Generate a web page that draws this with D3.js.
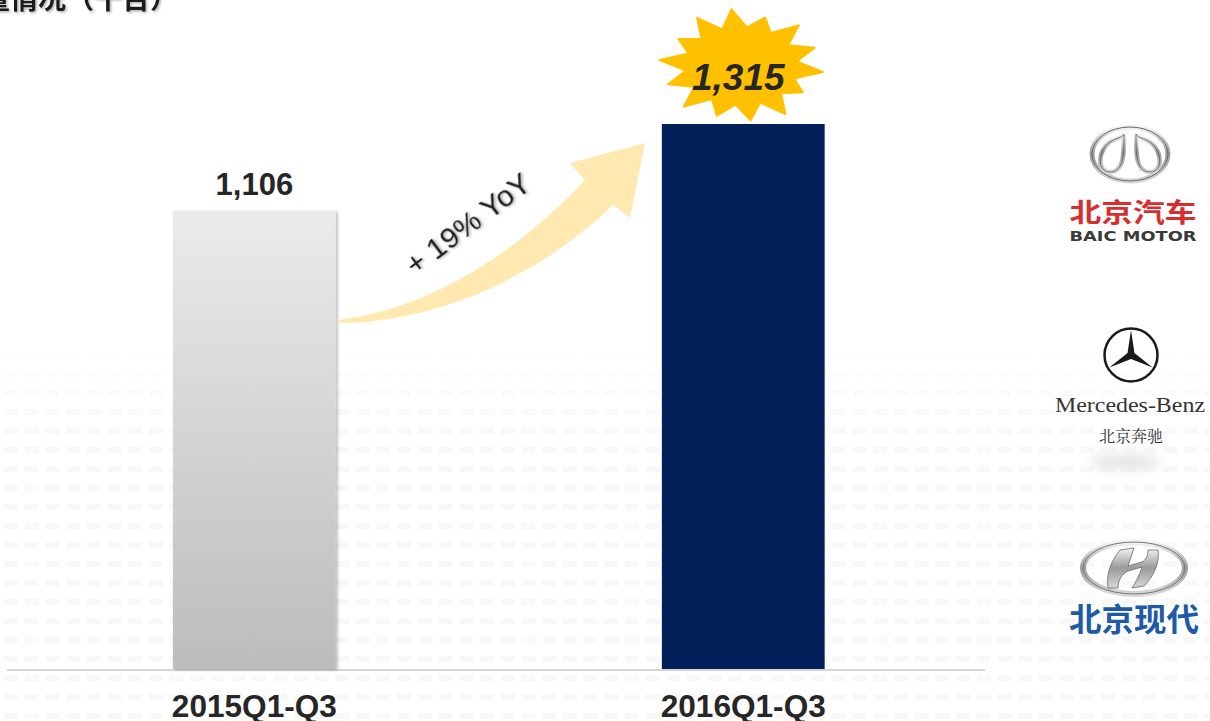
<!DOCTYPE html>
<html>
<head>
<meta charset="utf-8">
<script src="https://cdn.jsdelivr.net/npm/d3@7"></script>
<style>
  html, body { margin: 0; padding: 0; background: #fff; }
  svg { display: block; }
</style>
</head>
<body>
<svg id="chart" width="1210" height="721"></svg>
<script>
// data
const categories = ['2015Q1-Q3', '2016Q1-Q3'];
const sales = [1106, 1315];
const salesLabels = ['1,106', '1,315'];
const growthLabel = '+ 19% YoY';
const titleText = '销量情况（千台）';

const svg = d3.select('#chart'),
  width = +svg.attr('width'),
  height = +svg.attr('height');

const defs = svg.append('defs');

// faint tile pattern in lower half of background
const pat = defs.append('pattern')
  .attr('id', 'tiles')
  .attr('patternUnits', 'userSpaceOnUse')
  .attr('width', 20.7).attr('height', 19)
  .attr('x', 4).attr('y', 352);
pat.append('rect').attr('x', 0).attr('y', 0).attr('width', 14).attr('height', 6)
  .attr('fill', '#f8f8f8');

const fade = defs.append('linearGradient')
  .attr('id', 'fade').attr('x1', 0).attr('x2', 0)
  .attr('gradientUnits', 'userSpaceOnUse')
  .attr('y1', 330).attr('y2', 450);
fade.append('stop').attr('offset', 0).attr('stop-color', '#fff').attr('stop-opacity', 0);
fade.append('stop').attr('offset', 1).attr('stop-color', '#fff').attr('stop-opacity', 1);
defs.append('mask').attr('id', 'fadeMask')
  .append('rect').attr('width', width).attr('height', height).attr('fill', 'url(#fade)');

svg.append('rect')
  .attr('x', 0).attr('y', 330).attr('width', width).attr('height', height - 330)
  .attr('fill', 'url(#tiles)')
  .attr('mask', 'url(#fadeMask)');

// grey gradient for first bar
const greyGrad = defs.append('linearGradient')
  .attr('id', 'greyGrad').attr('x1', 0).attr('x2', 0).attr('y1', 0).attr('y2', 1);
greyGrad.append('stop').attr('offset', 0).attr('stop-color', '#ebebeb');
greyGrad.append('stop').attr('offset', 1).attr('stop-color', '#bcbcbc');

const shadow = defs.append('filter').attr('id', 'shadow')
  .attr('x', '-20%').attr('y', '-20%').attr('width', '140%').attr('height', '140%');
shadow.append('feDropShadow').attr('dx', 2).attr('dy', 1).attr('stdDeviation', 1.5)
  .attr('flood-color', '#000').attr('flood-opacity', 0.25);

const textShadow = defs.append('filter').attr('id', 'textShadow')
  .attr('x', '-20%').attr('y', '-40%').attr('width', '140%').attr('height', '180%');
textShadow.append('feDropShadow').attr('dx', 1.5).attr('dy', 1.5).attr('stdDeviation', 1)
  .attr('flood-color', '#000').attr('flood-opacity', 0.3);

// scales
const x = d3.scaleBand()
  .domain(categories)
  .range([11.6, 986])
  .paddingInner(0.667)
  .paddingOuter(0.33);

const y = d3.scaleLinear()
  .domain([0, 1315])
  .range([669, 124]);

const fills = ['url(#greyGrad)', '#03205a'];

// baseline
svg.append('line')
  .attr('x1', 7).attr('x2', 985)
  .attr('y1', y(0) + 1).attr('y2', y(0) + 1)
  .attr('stroke', '#d6d6d6').attr('stroke-width', 2);

// bars
svg.selectAll('.bar')
  .data(sales)
  .enter()
  .append('rect')
  .attr('class', 'bar')
  .attr('x', (d, i) => x(categories[i]))
  .attr('y', d => y(d))
  .attr('width', x.bandwidth())
  .attr('height', d => y(0) - y(d))
  .attr('fill', (d, i) => fills[i])
  .attr('filter', (d, i) => i === 0 ? 'url(#shadow)' : null);

// category labels
svg.selectAll('.cat')
  .data(categories)
  .enter()
  .append('text')
  .attr('class', 'cat')
  .attr('x', d => x(d) + x.bandwidth() / 2)
  .attr('y', 717)
  .attr('text-anchor', 'middle')
  .attr('font-family', '"Liberation Sans", Arial, sans-serif')
  .attr('font-weight', 'bold')
  .attr('font-size', 32)
  .attr('textLength', 165)
  .attr('lengthAdjust', 'spacingAndGlyphs')
  .attr('fill', '#262626')
  .text(d => d);

// growth arrow
const arrowPath = d3.path();
arrowPath.moveTo(337, 320);
arrowPath.bezierCurveTo(430, 310, 520, 250, 585, 180);
arrowPath.lineTo(570, 163);
arrowPath.lineTo(645, 143);
arrowPath.lineTo(630, 218);
arrowPath.lineTo(613, 205);
arrowPath.bezierCurveTo(540, 275, 440, 322, 340, 323);
arrowPath.closePath();
svg.append('path')
  .attr('d', arrowPath.toString())
  .attr('fill', '#ffe9b0');

svg.append('text')
  .attr('transform', 'translate(474,232) rotate(-37)')
  .attr('text-anchor', 'middle')
  .attr('font-family', '"Liberation Sans", Arial, sans-serif')
  .attr('font-size', 30)
  .attr('fill', '#1e1e1e')
  .attr('filter', 'url(#textShadow)')
  .text(growthLabel);

// starburst behind 2016 value
const cx = x(categories[1]) + x.bandwidth() / 2 - 2, cy = 66;
const spikes = 14;
const outerR = [1.0, 0.9, 1.0, 0.95, 1.0, 0.88, 1.0, 0.96, 0.92, 1.0, 0.95, 1.0, 0.9, 1.0];
const starPts = [];
for (let k = 0; k < spikes * 2; k++) {
  const a = -Math.PI / 2 + k * Math.PI / spikes - 0.12;
  const r = k % 2 === 0 ? outerR[k / 2] : 0.68;
  starPts.push([cx + Math.cos(a) * 82 * r, cy + Math.sin(a) * 57 * r]);
}
svg.append('path')
  .attr('d', d3.line().curve(d3.curveLinearClosed)(starPts))
  .attr('fill', '#ffc000')
  .attr('stroke', '#ffc000')
  .attr('stroke-width', 2)
  .attr('stroke-linejoin', 'round');

// value labels
svg.append('text')
  .attr('x', x(categories[0]) + x.bandwidth() / 2)
  .attr('y', 195)
  .attr('text-anchor', 'middle')
  .attr('font-family', '"Liberation Sans", Arial, sans-serif')
  .attr('font-weight', 'bold')
  .attr('font-size', 31)
  .attr('fill', '#262626')
  .text(salesLabels[0]);

svg.append('text')
  .attr('x', cx - 3)
  .attr('y', 90)
  .attr('text-anchor', 'middle')
  .attr('font-family', '"Liberation Sans", Arial, sans-serif')
  .attr('font-weight', 'bold')
  .attr('font-style', 'italic')
  .attr('font-size', 37)
  .attr('fill', '#262626')
  .text(salesLabels[1]);

// cut-off title at top left
svg.append('text')
  .attr('x', 178)
  .attr('y', 9)
  .attr('text-anchor', 'end')
  .attr('font-family', '"Noto Sans CJK SC", sans-serif')
  .attr('font-weight', 'bold')
  .attr('font-size', 28)
  .attr('fill', '#1a1a1a')
  .attr('filter', 'url(#textShadow)')
  .text(titleText);

// ---- brand logos on the right ----
const logos = svg.append('g');

const silver = defs.append('linearGradient')
  .attr('id', 'silver').attr('x1', 0).attr('x2', 0).attr('y1', 0).attr('y2', 1);
silver.append('stop').attr('offset', 0).attr('stop-color', '#f4f4f4');
silver.append('stop').attr('offset', 0.5).attr('stop-color', '#9a9a9a');
silver.append('stop').attr('offset', 1).attr('stop-color', '#d8d8d8');

// BAIC
const baic = logos.append('g').attr('transform', 'translate(1130,154)');
baic.append('ellipse').attr('rx', 38).attr('ry', 27)
  .attr('fill', 'none').attr('stroke', 'url(#silver)').attr('stroke-width', 5);
baic.append('ellipse').attr('rx', 38).attr('ry', 27)
  .attr('fill', 'none').attr('stroke', '#666').attr('stroke-width', 1);
[-1, 1].forEach(s => {
  const d = `M${s * 6},-20 C${s * 6},0 ${s * 6},18 ${s * 20},18 C${s * 34},18 ${s * 32},-4 ${s * 20},-12 C${s * 14},-16 ${s * 8},-16 ${s * 6},-20 Z`;
  baic.append('path').attr('d', d)
    .attr('fill', 'none').attr('stroke', 'url(#silver)').attr('stroke-width', 4.5);
  baic.append('path').attr('d', d)
    .attr('fill', 'none').attr('stroke', '#555').attr('stroke-width', 0.8);
});
logos.append('text')
  .attr('x', 1133).attr('y', 222)
  .attr('text-anchor', 'middle')
  .attr('font-family', '"Noto Sans CJK SC", sans-serif')
  .attr('font-weight', 'bold')
  .attr('font-size', 26)
  .attr('textLength', 127)
  .attr('lengthAdjust', 'spacingAndGlyphs')
  .attr('fill', '#d62f2f')
  .text('北京汽车');
logos.append('text')
  .attr('x', 1133).attr('y', 241)
  .attr('text-anchor', 'middle')
  .attr('font-family', '"DejaVu Sans", sans-serif')
  .attr('font-weight', 'bold')
  .attr('font-size', 14)
  .attr('textLength', 127)
  .attr('lengthAdjust', 'spacingAndGlyphs')
  .attr('fill', '#3a3a3a')
  .text('BAIC MOTOR');

// Mercedes-Benz
const mb = logos.append('g').attr('transform', 'translate(1131,355)');
mb.append('circle').attr('r', 26.5)
  .attr('fill', 'none').attr('stroke', '#1a1a1a').attr('stroke-width', 2.5);
const starArm = [];
for (let k = 0; k < 6; k++) {
  const a = -Math.PI / 2 + k * Math.PI / 3;
  const r = k % 2 === 0 ? 25 : 4;
  starArm.push([Math.cos(a) * r, Math.sin(a) * r]);
}
mb.append('path')
  .attr('d', d3.line().curve(d3.curveLinearClosed)(starArm))
  .attr('fill', '#1a1a1a');
logos.append('text')
  .attr('x', 1130).attr('y', 412)
  .attr('text-anchor', 'middle')
  .attr('font-family', '"Liberation Serif", "DejaVu Serif", serif')
  .attr('font-size', 22)
  .attr('textLength', 150)
  .attr('lengthAdjust', 'spacingAndGlyphs')
  .attr('fill', '#333')
  .text('Mercedes-Benz');
logos.append('text')
  .attr('x', 1131).attr('y', 442)
  .attr('text-anchor', 'middle')
  .attr('font-family', '"Noto Serif CJK SC", "Noto Sans CJK SC", serif')
  .attr('font-size', 16)
  .attr('fill', '#333')
  .text('北京奔驰');
const blur = defs.append('filter').attr('id', 'blur')
  .attr('x', '-50%').attr('y', '-100%').attr('width', '200%').attr('height', '300%');
blur.append('feGaussianBlur').attr('stdDeviation', 6);
logos.append('ellipse')
  .attr('cx', 1125).attr('cy', 462).attr('rx', 35).attr('ry', 7)
  .attr('fill', '#e2e2e2').attr('filter', 'url(#blur)');

// Hyundai
const hy = logos.append('g').attr('transform', 'translate(1134,568)');
hy.append('ellipse').attr('rx', 51).attr('ry', 26)
  .attr('fill', 'none').attr('stroke', 'url(#silver)').attr('stroke-width', 6);
hy.append('ellipse').attr('rx', 51).attr('ry', 26)
  .attr('fill', 'none').attr('stroke', '#777').attr('stroke-width', 1);
hy.append('path')
  .attr('d', 'M-14,-18 C-24,-6 -28,8 -26,20 L-16,20 C-16,12 -12,6 -6,3 L8,-1 C6,6 2,14 -2,20 L10,18 C20,8 26,-6 24,-18 L14,-18 C14,-12 12,-8 8,-6 L-6,-2 C-4,-8 -2,-14 0,-20 Z')
  .attr('fill', 'url(#silver)').attr('stroke', '#666').attr('stroke-width', 0.8);
logos.append('text')
  .attr('x', 1134).attr('y', 631)
  .attr('text-anchor', 'middle')
  .attr('font-family', '"Noto Sans CJK SC", sans-serif')
  .attr('font-weight', 'bold')
  .attr('font-size', 32)
  .attr('textLength', 130)
  .attr('lengthAdjust', 'spacingAndGlyphs')
  .attr('fill', '#1e5aa8')
  .text('北京现代');
</script>
</body>
</html>
